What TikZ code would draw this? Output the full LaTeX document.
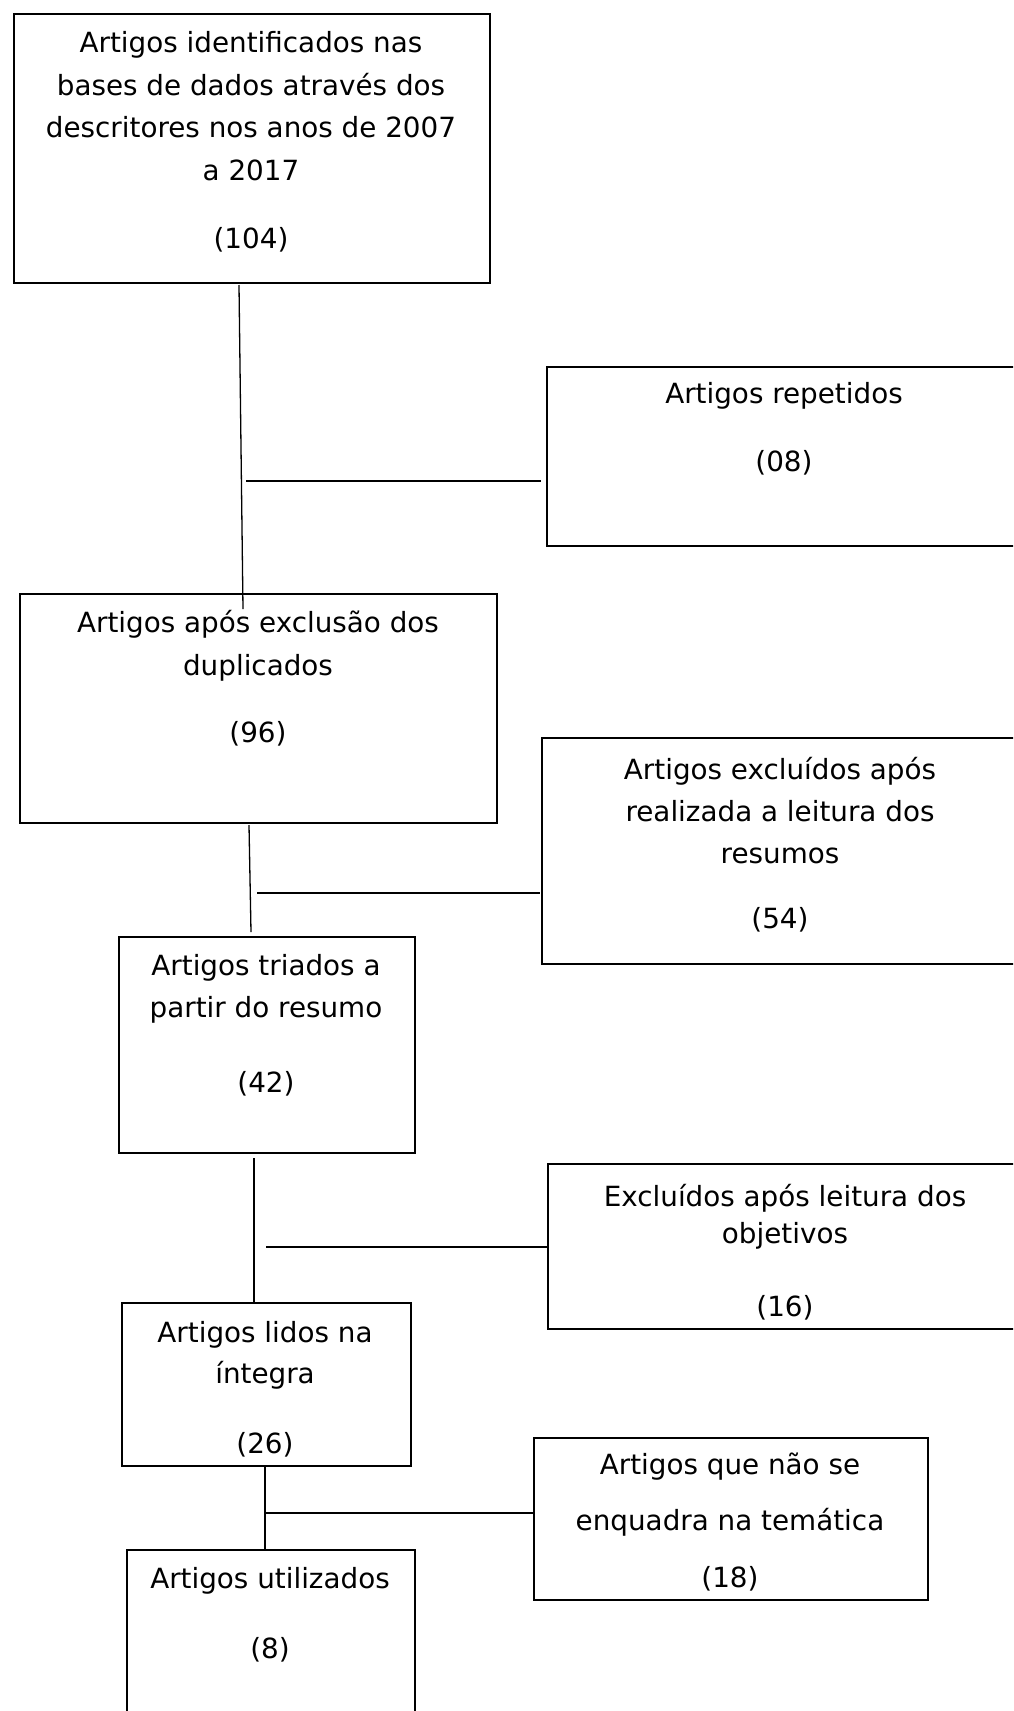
\documentclass[tikz,border=0pt]{standalone}
\usepackage{fontspec}
\setmainfont{DejaVu Sans}
\begin{document}
\begin{tikzpicture}[x=1pt,y=-1pt,
  box/.style={draw=black,line width=1.8pt,rectangle,inner sep=0pt,anchor=north west},
  txt/.style={anchor=base,inner sep=0pt,font=\fontsize{27.8}{34}\selectfont},
  conn/.style={draw=black,line width=1.3pt},
  connthick/.style={draw=black,line width=2pt}]
\useasboundingbox (0,0) rectangle (1013,1711);
\clip (0,0) rectangle (1013,1711);
\fill[white] (0,0) rectangle (1013,1711);
% boxes
\node[box,minimum width=476pt,minimum height=269pt] (b1) at (13,13) {};
\node[box,minimum width=480pt,minimum height=179pt] (b2) at (546,366) {};
\node[box,minimum width=477pt,minimum height=229pt] (b3) at (19,593) {};
\node[box,minimum width=485pt,minimum height=226pt] (b4) at (541,737) {};
\node[box,minimum width=296pt,minimum height=216pt] (b5) at (118,936) {};
\node[box,minimum width=479pt,minimum height=165pt] (b6) at (547,1163) {};
\node[box,minimum width=289pt,minimum height=163pt] (b7) at (121,1302) {};
\node[box,minimum width=394pt,minimum height=162pt] (b8) at (533,1437) {};
\node[box,minimum width=288pt,minimum height=190pt] (b9) at (126,1549) {};
% texts
\node[txt] (t1a) at (251,52) {Artigos identificados nas};
\node[txt] (t1b) at (251,95) {bases de dados através dos};
\node[txt] (t1c) at (251,137) {descritores nos anos de 2007};
\node[txt] (t1d) at (251,180) {a 2017};
\node[txt] (t1e) at (251,248) {(104)};
\node[txt] (t2a) at (784,403) {Artigos repetidos};
\node[txt] (t2b) at (784,471) {(08)};
\node[txt] (t3a) at (258,632) {Artigos após exclusão dos};
\node[txt] (t3b) at (258,675) {duplicados};
\node[txt] (t3c) at (258,742) {(96)};
\node[txt] (t4a) at (780,779) {Artigos excluídos após};
\node[txt] (t4b) at (780,821) {realizada a leitura dos};
\node[txt] (t4c) at (780,863) {resumos};
\node[txt] (t4d) at (780,928) {(54)};
\node[txt] (t5a) at (266,975) {Artigos triados a};
\node[txt] (t5b) at (266,1017) {partir do resumo};
\node[txt] (t5c) at (266,1092) {(42)};
\node[txt] (t6a) at (785,1206) {Excluídos após leitura dos};
\node[txt] (t6b) at (785,1243) {objetivos};
\node[txt] (t6c) at (785,1316) {(16)};
\node[txt] (t7a) at (265,1342) {Artigos lidos na};
\node[txt] (t7b) at (265,1383) {íntegra};
\node[txt] (t7c) at (265,1453) {(26)};
\node[txt] (t8a) at (730,1474) {Artigos que não se};
\node[txt] (t8b) at (730,1530) {enquadra na temática};
\node[txt] (t8c) at (730,1587) {(18)};
\node[txt] (t9a) at (270,1588) {Artigos utilizados};
\node[txt] (t9b) at (270,1658) {(8)};
% connector end points
\coordinate (v1a) at (239,285);
\coordinate (v1b) at (243,609);
\coordinate (h1a) at (246,481);
\coordinate (h1b) at (541,481);
\coordinate (v2a) at (249,825);
\coordinate (v2b) at (251,932);
\coordinate (h2a) at (257,893);
\coordinate (h2b) at (540,893);
\coordinate (v3a) at (254,1158);
\coordinate (h3a) at (266,1247);
\coordinate (h3b) at (547,1247);
\coordinate (h4a) at (266,1513);
% connectors
\draw[conn] (v1a) -- (v1b);
\draw[conn] (h1a) -- (h1b);
\draw[conn] (v2a) -- (v2b);
\draw[connthick] (h2a) -- (h2b);
\draw[conn] (v3a) -- (v3a |- b7.north);
\draw[connthick] (h3a) -- (h3b);
\draw[conn] (b7.south -| v3a) ++(11,0) -- ++(0,82);
\draw[conn] (h4a) -- (h4a -| b8.west);
\end{tikzpicture}
\end{document}
